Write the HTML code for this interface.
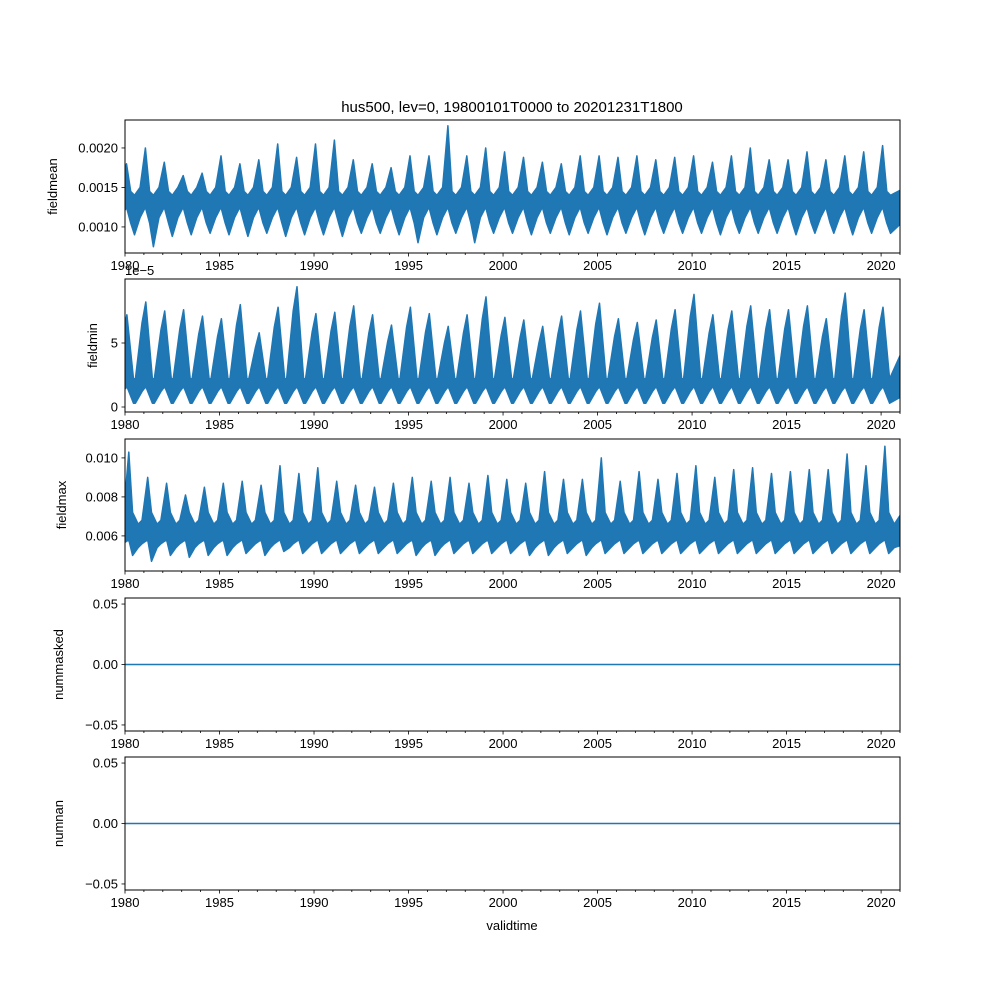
<!DOCTYPE html>
<html><head><meta charset="utf-8"><style>
body{margin:0;background:#fff}
svg{display:block;font-family:"Liberation Sans",sans-serif}
</style></head><body>
<svg id="c" width="1000" height="1000" viewBox="0 0 1000 1000">
<text x="512" y="112" font-size="15" text-anchor="middle">hus500, lev=0, 19800101T0000 to 20201231T1800</text>
<text x="512" y="930" font-size="13" text-anchor="middle">validtime</text>
</svg>
<script>
// per-year readings (1980..2020)
const years=[1980,1981,1982,1983,1984,1985,1986,1987,1988,1989,1990,1991,1992,1993,1994,1995,1996,1997,1998,1999,2000,2001,2002,2003,2004,2005,2006,2007,2008,2009,2010,2011,2012,2013,2014,2015,2016,2017,2018,2019,2020];
const meanPeak=[0.00180,0.00200,0.00182,0.00165,0.00168,0.00190,0.00180,0.00185,0.00205,0.00188,0.00205,0.00210,0.00185,0.00180,0.00175,0.00190,0.00190,0.00228,0.00190,0.00200,0.00195,0.00188,0.00182,0.00180,0.00190,0.00190,0.00188,0.00190,0.00185,0.00188,0.00190,0.00182,0.00190,0.00200,0.00185,0.00185,0.00195,0.00185,0.00190,0.00195,0.00203];
const meanLow=[0.00090,0.00075,0.00088,0.00090,0.00092,0.00090,0.00088,0.00092,0.00088,0.00090,0.00090,0.00088,0.00092,0.00092,0.00090,0.00080,0.00090,0.00092,0.00080,0.00092,0.00092,0.00090,0.00092,0.00090,0.00092,0.00090,0.00092,0.00090,0.00092,0.00092,0.00092,0.00090,0.00092,0.00092,0.00092,0.00090,0.00092,0.00092,0.00090,0.00092,0.00092];
const minPeak=[7.2,8.2,7.5,7.6,7.1,6.9,8.0,5.8,7.8,9.4,7.3,7.4,7.9,7.2,6.4,7.8,7.3,6.3,7.2,8.6,7.0,6.8,6.3,7.1,7.5,8.1,6.9,6.6,6.8,7.6,8.8,7.2,7.5,7.9,7.6,7.6,7.9,6.9,8.9,7.6,7.8];
const maxPeak=[0.0103,0.0090,0.0087,0.0081,0.0085,0.0087,0.0088,0.0086,0.0096,0.0092,0.0095,0.0088,0.0086,0.0085,0.0087,0.0090,0.0088,0.0090,0.0087,0.0091,0.0089,0.0087,0.0093,0.0089,0.0089,0.0100,0.0088,0.0093,0.0089,0.0092,0.0096,0.0090,0.0094,0.0095,0.0092,0.0093,0.0094,0.0094,0.0102,0.0096,0.0106];
const maxLow=[0.0050,0.0047,0.0050,0.0049,0.0050,0.0050,0.0051,0.0050,0.0052,0.0051,0.0051,0.0051,0.0051,0.0051,0.0051,0.0050,0.0050,0.0051,0.0051,0.0051,0.0051,0.0050,0.0050,0.0051,0.0050,0.0051,0.0051,0.0051,0.0051,0.0051,0.0051,0.0051,0.0051,0.0051,0.0051,0.0051,0.0051,0.0051,0.0051,0.0051,0.0051];
const xTicks=[1980,1985,1990,1995,2000,2005,2010,2015,2020];
const panels=[
 {name:'fieldmean',top:120,bot:253,ymin:0.00067,ymax:0.002354,ticks:[0.0010,0.0015,0.0020],fmt:v=>v.toFixed(4)},
 {name:'fieldmin',top:279,bot:412,ymin:-0.39,ymax:10.0,ticks:[0,5],fmt:v=>String(v)},
 {name:'fieldmax',top:439,bot:571,ymin:0.0042,ymax:0.01097,ticks:[0.006,0.008,0.010],fmt:v=>v.toFixed(3)},
 {name:'nummasked',top:598,bot:731,ymin:-0.055,ymax:0.055,ticks:[-0.05,0,0.05],fmt:v=>v.toFixed(2).replace('-','−')},
 {name:'numnan',top:757,bot:890,ymin:-0.055,ymax:0.055,ticks:[-0.05,0,0.05],fmt:v=>v.toFixed(2).replace('-','−')}
];
const L=125,R=900,X0=1980,X1=2021;
const svg=document.getElementById('c');const NS='http://www.w3.org/2000/svg';
const sx=t=>L+(t-X0)/(X1-X0)*(R-L);
function mk(tag,attrs,parent){const e=document.createElementNS(NS,tag);for(const k in attrs)e.setAttribute(k,attrs[k]);(parent||svg).appendChild(e);return e;}
const C='#1f77b4';
panels.forEach((p,pi)=>{
 const g=mk('g',{});
 
 
 const sy=v=>p.bot-(v-p.ymin)/(p.ymax-p.ymin)*(p.bot-p.top);
 const clipId='cl'+pi;
 const cp=mk('clipPath',{id:clipId},g);mk('rect',{x:L,y:p.top,width:R-L,height:p.bot-p.top},cp);
 let up=[],lo=[];
 if(pi===0){
  years.forEach((y,i)=>{
   up.push([y-0.2,0.00150],[y+0.08,meanPeak[i]],[y+0.3,0.00145],[y+0.5,0.00140]);
   lo.push([y-0.2,0.00112],[y+0.08,0.00125],[y+0.3,0.00105],[y+0.5,meanLow[i]]);});
  up.push([2021.3,0.0015]);lo.push([2021.3,0.0011]);
 }else if(pi===1){
  years.forEach((y,i)=>{
   up.push([y-0.45,2.2],[y-0.1,minPeak[i]*0.8],[y+0.1,minPeak[i]],[y+0.45,2.2]);
   lo.push([y-0.45,0.3],[y-0.1,1.2],[y+0.1,1.6],[y+0.45,0.3]);});
  up.push([2021.3,5]);lo.push([2021.3,1]);
 }else if(pi===2){
  years.forEach((y,i)=>{
   up.push([y-0.1,0.0068],[y+0.2,maxPeak[i]],[y+0.4,0.0072],[y+0.7,0.0066]);
   lo.push([y-0.1,0.0056],[y+0.2,0.0058],[y+0.4,maxLow[i]],[y+0.7,0.0054]);});
  up.push([2021.3,0.0075]);lo.push([2021.3,0.0056]);
 }
 if(up.length){
  const pts=up.map(q=>sx(q[0]).toFixed(1)+','+sy(q[1]).toFixed(1)).concat(lo.slice().reverse().map(q=>sx(q[0]).toFixed(1)+','+sy(q[1]).toFixed(1)));
  const s=mk('polygon',{points:pts.join(' '),fill:C,stroke:C,'stroke-width':1.5,'stroke-linejoin':'round','clip-path':'url(#'+clipId+')'},g);
  
  
 }else{
  const s=mk('line',{x1:L,x2:R,y1:sy(0),y2:sy(0),stroke:C,'stroke-width':1.5},g);
  
  
 }
 const fr=mk('rect',{x:L,y:p.top,width:R-L,height:p.bot-p.top,fill:'none',stroke:'#000','stroke-width':1},g);
 
 
 for(let y=X0;y<=X1;y++){const mj=xTicks.includes(y);mk('line',{x1:sx(y),x2:sx(y),y1:p.bot,y2:p.bot+(mj?3.5:2),stroke:'#000','stroke-width':0.8},g);}
 xTicks.forEach(t=>{const tx=mk('text',{x:sx(t),y:p.bot+17,'font-size':13,'text-anchor':'middle'},g);tx.textContent=t;
  
  });
 p.ticks.forEach(t=>{const yy=sy(t);mk('line',{x1:L-3.5,x2:L,y1:yy,y2:yy,stroke:'#000','stroke-width':0.8},g);
  const tx=mk('text',{x:L-7,y:yy+4.5,'font-size':13,'text-anchor':'end'},g);tx.textContent=p.fmt(t);
  
  });
 const yl=mk('text',{x:0,y:0,'font-size':13,'text-anchor':'middle',transform:`translate(${pi===0?57:pi===2?66:pi===1?97:63},${(p.top+p.bot)/2}) rotate(-90)`},g);
 yl.textContent=p.name;
 
 
 if(pi===1){const o=mk('text',{x:125,y:275,'font-size':13},g);o.textContent='1e−5';
  
  }
});
</script>
</body></html>
